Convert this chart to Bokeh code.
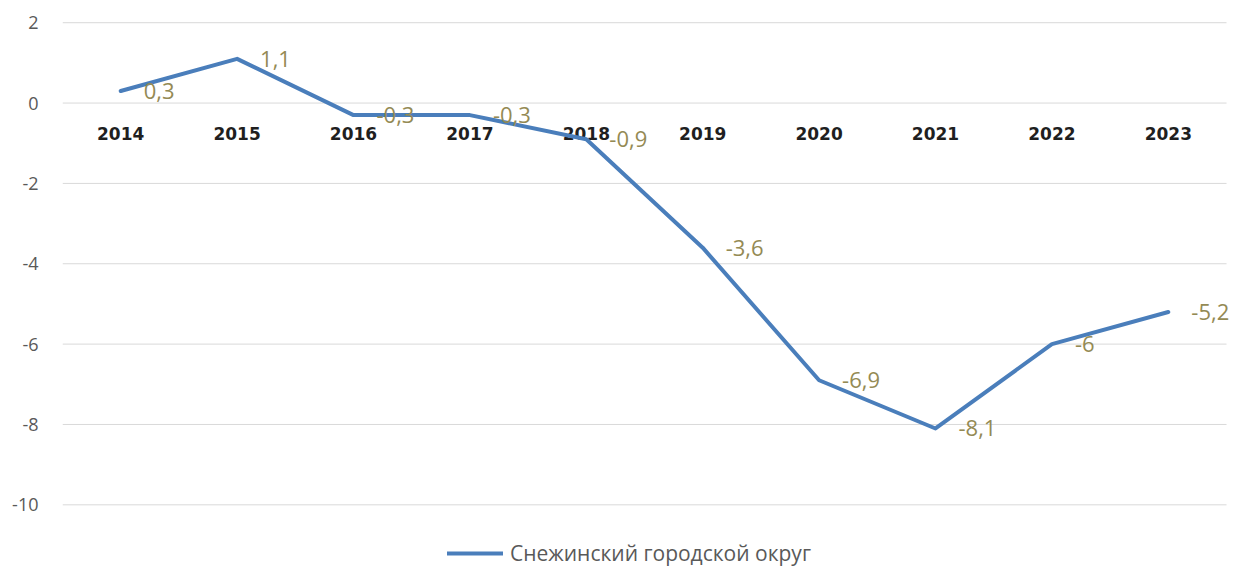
from bokeh.plotting import figure
from bokeh.models import ColumnDataSource, FixedTicker, Legend, LegendItem, Range1d, PrintfTickFormatter
from bokeh.core.properties import value
from bokeh.embed import file_html
from bokeh.resources import INLINE

years = ["2014", "2015", "2016", "2017", "2018", "2019", "2020", "2021", "2022", "2023"]
values = [0.3, 1.1, -0.3, -0.3, -0.9, -3.6, -6.9, -8.1, -6, -5.2]
y_ticks = [-10, -8, -6, -4, -2, 0, 2]
series_name = "Снежинский городской округ"

n = len(years)
idx = list(range(n))
labels = [f"{v:g}".replace(".", ",") for v in values]
src = ColumnDataSource(dict(x=idx, year=years, y=values, lab=labels, zero=[0] * n))

p = figure(width=1233, height=567, output_backend="svg", toolbar_location=None,
           x_range=Range1d(-0.5, n - 0.5 + 0.06), y_range=Range1d(-11.56, 2.03),
           min_border_left=62, min_border_right=0, min_border_top=21, min_border_bottom=0)
p.outline_line_color = None
p.xaxis.visible = False
p.xgrid.visible = False
p.ygrid.visible = False
p.yaxis.ticker = FixedTicker(ticks=y_ticks)
p.yaxis.formatter = PrintfTickFormatter(format="%d")
p.yaxis.axis_line_color = None
p.yaxis.major_tick_line_color = None
p.yaxis.minor_tick_line_color = None
p.yaxis.major_label_standoff = 18
p.yaxis.major_label_text_font = "Open Sans"
p.yaxis.major_label_text_font_size = "18px"
p.yaxis.major_label_text_color = "#595959"

# horizontal gridlines spanning the category area
p.segment(x0=[-0.5] * len(y_ticks), x1=[n - 0.5] * len(y_ticks), y0=y_ticks, y1=y_ticks,
          line_color="#d9d9d9", line_width=1)

# category labels at the zero line
p.text(x="x", y="zero", text="year", source=src, y_offset=30, text_align="center",
       text_baseline="middle", text_font=value("DejaVu Sans"), text_font_style="bold",
       text_font_size="17px", text_color="#1f1f1f")

r = p.line(x="x", y="y", source=src, line_color="#4a7ebb", line_width=4,
           line_cap="round", line_join="round")

p.text(x="x", y="y", text="lab", source=src, x_offset=23, text_align="left",
       text_baseline="middle", text_font=value("Open Sans"), text_font_size="22px",
       text_color="#948a54")

legend = Legend(items=[LegendItem(label=series_name, renderers=[r])],
                location=(385, 0), orientation="horizontal",
                glyph_width=56, glyph_height=20, label_height=20, label_standoff=7,
                padding=0, margin=0, border_line_color=None, background_fill_alpha=0,
                label_text_font="Open Sans", label_text_font_size="21px",
                label_text_color="#595959")
p.add_layout(legend)

open("out.html", "w").write(file_html(p, INLINE))
